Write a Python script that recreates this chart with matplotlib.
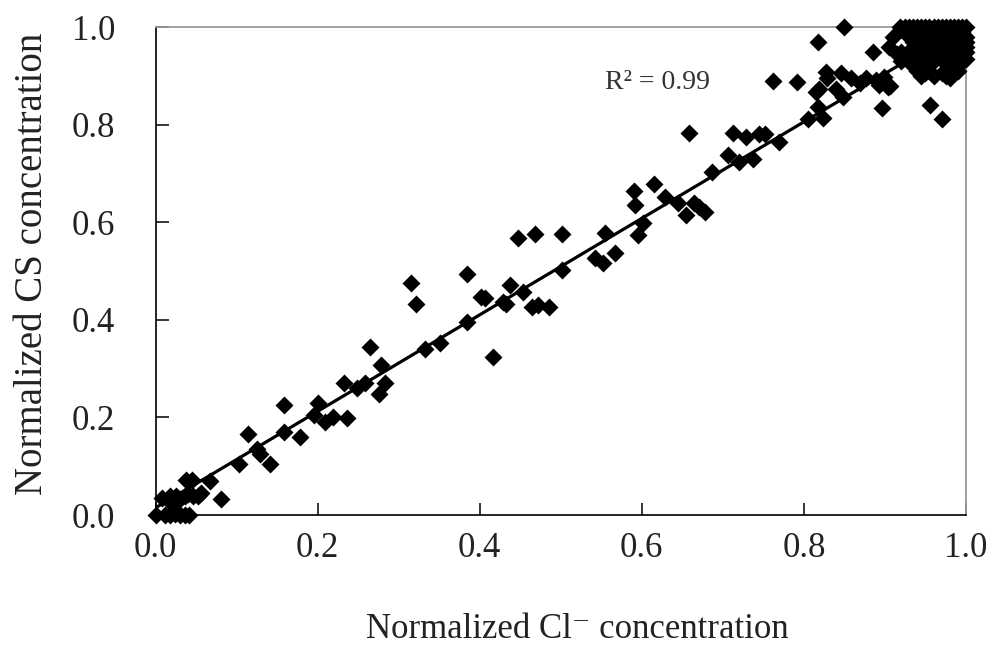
import numpy as np
import matplotlib
matplotlib.use("Agg")
import matplotlib.pyplot as plt

# normalized Cl- (x) vs normalized CS (y)
low_x = [0.000, 0.012, 0.018, 0.024, 0.030, 0.036, 0.041, 0.027,
         0.008, 0.015, 0.018, 0.025, 0.030, 0.036, 0.040, 0.046, 0.052, 0.056, 0.022,
         0.038, 0.045, 0.067, 0.081]
low_y = [0.000, 0.000, 0.000, 0.002, 0.000, 0.000, 0.000, 0.006,
         0.034, 0.030, 0.038, 0.040, 0.033, 0.038, 0.044, 0.040, 0.038, 0.046, 0.028,
         0.072, 0.071, 0.070, 0.033]

mid_x = [0.103, 0.114, 0.125, 0.129, 0.141, 0.158, 0.158, 0.178, 0.195, 0.201,
         0.209, 0.219, 0.236, 0.232, 0.248, 0.258, 0.265, 0.276, 0.278, 0.283,
         0.315, 0.321, 0.332, 0.351, 0.384, 0.384, 0.402, 0.406, 0.416, 0.429,
         0.433, 0.437, 0.447, 0.454, 0.464, 0.468, 0.472, 0.486]
mid_y = [0.104, 0.167, 0.135, 0.126, 0.104, 0.225, 0.171, 0.160, 0.205, 0.230,
         0.191, 0.200, 0.198, 0.270, 0.260, 0.270, 0.345, 0.249, 0.307, 0.271,
         0.476, 0.432, 0.340, 0.353, 0.495, 0.396, 0.447, 0.444, 0.324, 0.437,
         0.432, 0.471, 0.567, 0.458, 0.426, 0.577, 0.430, 0.426]

upper_x = [0.501, 0.502, 0.542, 0.552, 0.554, 0.567, 0.591, 0.592, 0.595, 0.602,
           0.615, 0.629, 0.645, 0.654, 0.658, 0.665, 0.671, 0.678, 0.687, 0.706,
           0.712, 0.720, 0.729, 0.737, 0.745, 0.752, 0.762, 0.769, 0.791, 0.805,
           0.815, 0.817, 0.817, 0.819, 0.824, 0.827, 0.828, 0.840, 0.846, 0.848,
           0.850, 0.858, 0.869, 0.877, 0.885, 0.889, 0.893, 0.897, 0.899, 0.904,
           0.906, 0.956, 0.971, 1.000]
upper_y = [0.503, 0.576, 0.526, 0.517, 0.578, 0.537, 0.665, 0.635, 0.574, 0.599,
           0.678, 0.651, 0.640, 0.615, 0.783, 0.640, 0.632, 0.622, 0.703, 0.738,
           0.783, 0.724, 0.774, 0.729, 0.782, 0.782, 0.890, 0.765, 0.888, 0.811,
           0.867, 0.970, 0.837, 0.874, 0.813, 0.908, 0.895, 0.874, 0.905, 0.857,
           1.000, 0.895, 0.885, 0.895, 0.949, 0.891, 0.881, 0.835, 0.898, 0.878,
           0.880, 0.840, 0.811, 0.935]

# dense group in the top right corner
top_x = [0.918, 0.93, 0.94, 0.95, 0.96, 0.97, 0.98, 0.99, 1.0,
         0.925, 0.935, 0.945, 0.955, 0.965, 0.975, 0.985, 0.995,
         0.91, 0.93, 0.94, 0.95, 0.96, 0.97, 0.98, 0.99, 1.0,
         0.935, 0.945, 0.955, 0.965, 0.975, 0.985, 0.995,
         0.905, 0.935, 0.945, 0.96, 0.97, 0.98, 0.99, 1.0,
         0.92, 0.935, 0.95, 0.965, 0.975, 0.985, 0.995,
         0.925, 0.94, 0.955, 0.97, 0.98, 0.99,
         0.93, 0.95, 0.96, 0.985,
         0.935, 0.945, 0.98, 0.99,
         0.94, 0.955, 0.985,
         0.945, 0.96, 0.975,
         0.98,
         0.925, 0.935, 0.945, 0.955, 0.965, 0.975, 0.985, 0.995,
         0.93, 0.95, 0.97, 0.99,
         0.94, 0.95, 0.98, 1.0,
         0.93, 0.96, 0.99, 1.0,
         0.94, 0.955, 0.975, 0.995,
         0.95, 0.97, 0.99,
         0.92, 0.915]
top_y = [1.0, 1.0, 1.0, 1.0, 1.0, 1.0, 1.0, 1.0, 1.0,
         0.99, 0.99, 0.99, 0.99, 0.99, 0.99, 0.99, 0.99,
         0.98, 0.98, 0.98, 0.98, 0.98, 0.98, 0.98, 0.98, 0.98,
         0.97, 0.97, 0.97, 0.97, 0.97, 0.97, 0.97,
         0.96, 0.96, 0.96, 0.96, 0.96, 0.96, 0.96, 0.96,
         0.95, 0.95, 0.95, 0.95, 0.95, 0.95, 0.95,
         0.94, 0.94, 0.94, 0.94, 0.94, 0.94,
         0.93, 0.93, 0.93, 0.93,
         0.92, 0.92, 0.92, 0.92,
         0.91, 0.91, 0.91,
         0.90, 0.90, 0.90,
         0.895,
         1.0, 1.0, 1.0, 1.0, 1.0, 1.0, 1.0, 1.0,
         0.985, 0.985, 0.985, 0.985,
         0.965, 0.965, 0.965, 0.97,
         0.945, 0.945, 0.945, 0.95,
         0.925, 0.925, 0.925, 0.93,
         0.905, 0.905, 0.91,
         0.93, 0.945]

r2_label = "R² = 0.99"
ticks = [0.0, 0.2, 0.4, 0.6, 0.8, 1.0]

x = np.array(low_x + mid_x + upper_x + top_x)
y = np.array(low_y + mid_y + upper_y + top_y)

serif = ["Liberation Serif", "DejaVu Serif"]
plt.rcParams["font.family"] = serif

fig = plt.figure(figsize=(9.88, 6.62), dpi=100)
ax = fig.add_axes([0.1574, 0.222, 0.8203, 0.737])

# linear trendline over the data range
slope, icept = np.polyfit(x, y, 1)
xl = np.array([x.min(), x.max()])
ax.plot(xl, slope * xl + icept, color="black", lw=2.3, zorder=2)

ax.plot(x, y, ls="none", marker="D", ms=8.8, color="black", mec="none", zorder=3,
        clip_on=False)

ax.text(0.554, 0.886, r2_label, fontsize=20, color="#333333", va="center", ha="left")

ax.set_xlim(0, 1)
ax.set_ylim(0, 1)
ax.set_xticks(ticks)
ax.set_yticks(ticks)
ax.set_xticklabels([f"{t:.1f}" for t in ticks])
ax.set_yticklabels([f"{t:.1f}" for t in ticks])
ax.tick_params(axis="x", direction="in", length=9, width=1.1, labelsize=25, pad=12,
               labelcolor="#222222")
ax.tick_params(axis="y", direction="in", length=9, width=1.1, labelsize=25, pad=29,
               labelcolor="#222222")

for s in ["left", "bottom"]:
    ax.spines[s].set_color("black")
    ax.spines[s].set_linewidth(1.2)
for s in ["top", "right"]:
    ax.spines[s].set_color("#9a9a9a")
    ax.spines[s].set_linewidth(1.3)

ax.set_xlabel("Normalized Cl⁻ concentration", fontsize=25, color="#222222")
ax.set_ylabel("Normalized CS concentration", fontsize=28, color="#222222")
ax.xaxis.set_label_coords(0.52, -0.2)
ax.yaxis.set_label_coords(-0.129, 0.515)

fig.savefig("out.png", dpi=100, facecolor="white")
